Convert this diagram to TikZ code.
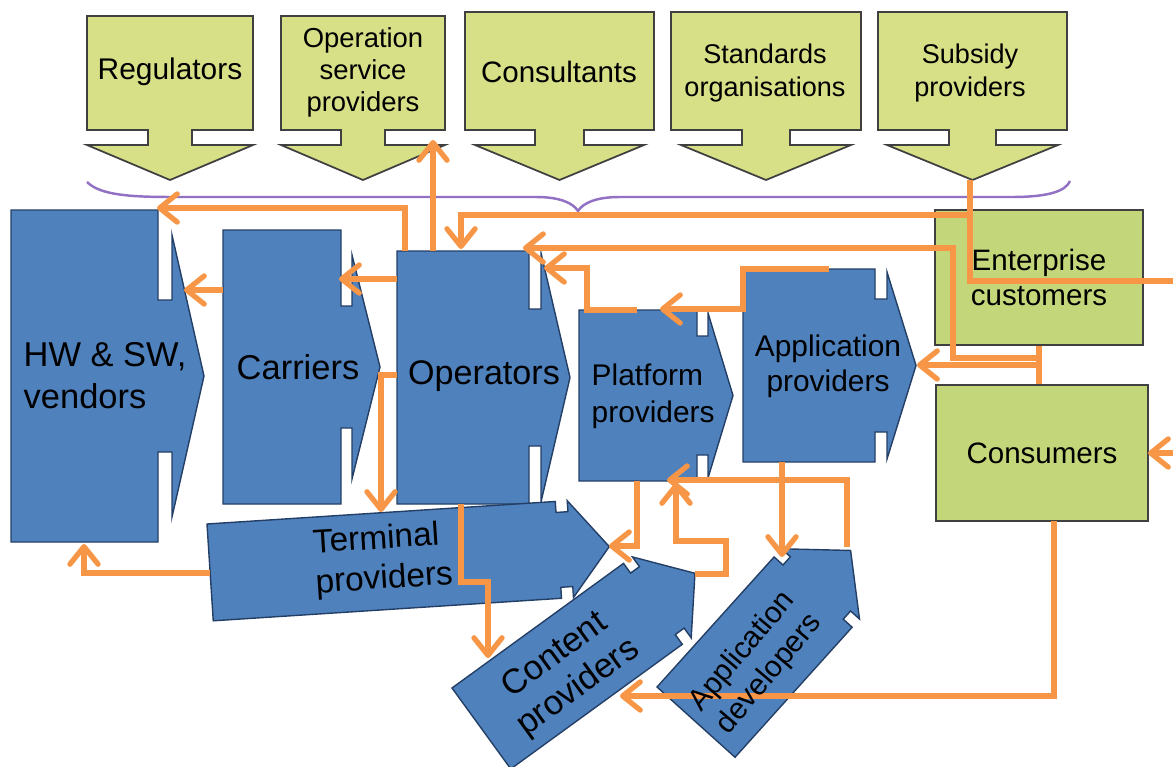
\documentclass[tikz,border=0pt]{standalone}
\usepackage{fontspec}
\setmainfont{Liberation Sans}
\usetikzlibrary{arrows.meta}
\definecolor{bleu}{HTML}{4F81BD}
\definecolor{bleufonce}{HTML}{243F66}
\definecolor{orangeflux}{HTML}{F79646}
\definecolor{jaunevert}{HTML}{D7DF87}
\definecolor{vertclair}{HTML}{C3D77A}
\definecolor{accolade}{HTML}{9270C4}

% notched arrow, local frame: #2 length, #3 height, #4 notch depth, #5 notch width, #6 head inset, #7 head length
\newcommand{\notchbox}[7]{%
\draw[#1] (0,0) -- (#2,0) -- (#2,#4) -- ({#2+#5},#4) -- ({#2+#5},#6) -- ({#2+#5+#7},{#3/2})
  -- ({#2+#5},{#3-#6}) -- ({#2+#5},{#3-#4}) -- (#2,{#3-#4}) -- (#2,#3) -- (0,#3) -- cycle ;}

\tikzset{
  bluebox/.style={draw=bleufonce, line width=0.4pt, fill=bleu},
  topbox/.style={draw=black!75, line width=0.5pt, fill=jaunevert},
  greenbox/.style={draw=black!75, line width=0.5pt, fill=vertclair, inner sep=0pt, align=center,
    font=\fontsize{8.4}{10}\selectfont},
  txt/.style 2 args={font=\fontsize{#1}{#2}\selectfont, inner sep=0pt, align=center},
  link/.style={draw=orangeflux, line width=1.5pt},
  flow/.style={link, -{Straight Barb[length=5pt,width=8pt,round]}},
}

\begin{document}
\begin{tikzpicture}[x=0.01cm, y=-0.01cm]
\useasboundingbox (0,0) rectangle (1173,767) ;
% brace
\draw[accolade, line width=0.7pt] (87,182) .. controls (100,195) and (130,197) .. (172,197) -- (536,197)
  .. controls (560,197) and (573,203) .. (578,211) .. controls (583,203) and (596,197) .. (620,197)
  -- (1012,197) .. controls (1052,197) and (1066,190) .. (1070,181) ;
% box Regulators
\begin{scope}[shift={(253,16)}, rotate=-90]
\notchbox{topbox}{114}{166}{61}{15}{0}{35}
\end{scope}
% box Operation service providers
\begin{scope}[shift={(445,16)}, rotate=-90]
\notchbox{topbox}{114}{164}{60}{15}{0}{35}
\end{scope}
% box Consultants
\begin{scope}[shift={(654,12)}, rotate=-90]
\notchbox{topbox}{118}{189}{70}{15}{10}{35}
\end{scope}
% box Standards organisations
\begin{scope}[shift={(861,12)}, rotate=-90]
\notchbox{topbox}{118}{190}{71}{15}{10}{35}
\end{scope}
% box Subsidy providers
\begin{scope}[shift={(1067,12)}, rotate=-90]
\notchbox{topbox}{118}{189}{71}{15}{9}{35}
\end{scope}
% box HW & SW vendors
\begin{scope}[shift={(11,210)}]
\notchbox{bluebox}{147}{332}{90}{14}{25}{32}
\end{scope}
% box Carriers
\begin{scope}[shift={(223,230)}]
\notchbox{bluebox}{118}{274}{76}{11}{25}{28}
\end{scope}
% box Operators
\begin{scope}[shift={(397,251)}]
\notchbox{bluebox}{132}{253}{58}{12}{2}{29}
\end{scope}
% box Platform providers
\begin{scope}[shift={(579,310)}]
\notchbox{bluebox}{118}{171}{26}{11}{3}{25}
\end{scope}
% box Application providers
\begin{scope}[shift={(743,269)}]
\notchbox{bluebox}{132}{193}{30}{12}{3}{29}
\end{scope}
% box Terminal providers
\begin{scope}[shift={(207,524)}, rotate=3.7]
\notchbox{bluebox}{349}{97}{11}{12}{0}{39}
\end{scope}
% box Content providers
\begin{scope}[shift={(452,688)}, rotate=36]
\notchbox{bluebox}{212}{100}{12}{11}{0}{41}
\end{scope}
% box Application developers
\begin{scope}[shift={(657,687)}, rotate=48]
\notchbox{bluebox}{175}{105}{12}{11}{0}{45}
\end{scope}
% customers
\node[greenbox, minimum width=2.08cm, minimum height=1.35cm] (ent) at (1039,277.5) {Enterprise\\customers} ;
\node[greenbox, minimum width=2.115cm, minimum height=1.36cm] (cus) at (1042,453) {Consumers} ;

% ports
\coordinate (op-n1) at (405,251) ;
\coordinate (op-n2) at (433,251) ;
\coordinate (op-n3) at (461,249) ;
\coordinate (op-ne) at (523,248) ;
\coordinate (op-e) at (544,268) ;
\coordinate (op-w1) at (397,279) ;
\coordinate (op-w2) at (397,375) ;
\coordinate (op-s) at (461,504) ;
\coordinate (hw-ne) at (157,208) ;
\coordinate (hw-e) at (184,290) ;
\coordinate (hw-s) at (84,544) ;
\coordinate (car-w) at (223,290) ;
\coordinate (car-e) at (339,279) ;
\coordinate (osp-s) at (433,140) ;
\coordinate (sub-s) at (970,180) ;
\coordinate (plat-n1) at (637,310) ;
\coordinate (plat-n2) at (660,309) ;
\coordinate (plat-s1) at (637,481) ;
\coordinate (plat-s2) at (676,483) ;
\coordinate (plat-s3) at (667,480) ;
\coordinate (app-n) at (829,269) ;
\coordinate (app-e) at (917,365) ;
\coordinate (app-s) at (782,462) ;
\coordinate (term-n) at (381,512) ;
\coordinate (term-w) at (210,573) ;
\coordinate (term-e) at (609,546) ;
\coordinate (cont-n) at (488,658) ;
\coordinate (cont-e) at (695,574) ;
\coordinate (cont-se) at (620,696) ;
\coordinate (dev-n) at (782,557) ;
\coordinate (dev-e) at (847,547) ;
\coordinate (cus-s) at (1054,521) ;
\coordinate (cus-e) at (1148,453) ;
\coordinate (e1) at (1039,358) ;
\coordinate (e2) at (1039,365) ;
% bends
\coordinate (b1) at (970,215) ;
\coordinate (b2) at (953,248) ;
\coordinate (b3) at (587,268) ;
\coordinate (b4) at (743,309) ;
\coordinate (b5) at (726,541) ;
\coordinate (b6) at (488,582) ;
\coordinate (out1) at (1173,281) ;
\coordinate (out2) at (1173,453) ;

% flows
\draw[flow] (op-n1) |- (hw-ne) ;
\draw[flow] (op-n2) -- (osp-s) ;
\draw[flow] (sub-s) -- (b1) -| (op-n3) ;
\draw[link] (b1) |- (out1) ;
\draw[link] (ent.south) -- (ent.south |- cus.north) ;
\draw[flow] (e1) -| (b2) -- (op-ne) ;
\draw[flow] (e2) -- (app-e) ;
\draw[flow] (plat-n1) -| (b3) -- (op-e) ;
\draw[flow] (app-n) -| (b4) -- (plat-n2) ;
\draw[flow] (car-w) -- (hw-e) ;
\draw[flow] (op-w1) -- (car-e) ;
\draw[flow] (op-w2) -| (term-n) ;
\draw[flow] (term-w) -| (hw-s) ;
\draw[flow] (op-s) |- (b6) -- (cont-n) ;
\draw[flow] (plat-s1) |- (term-e) ;
\draw[flow] (cont-e) -| (b5) -| (plat-s2) ;
\draw[flow] (dev-e) |- (plat-s3) ;
\draw[flow] (app-s) -- (dev-n) ;
\draw[flow] (cus-s) |- (cont-se) ;
\draw[flow] (out2) -- (cus-e) ;

% labels
\node[txt={8.5}{10}] (reg) at (170,72) {Regulators} ;
\node[txt={7.8}{9.1}] (osp) at (363,72) {Operation\\service\\providers} ;
\node[txt={8.4}{10}] (cons) at (559,72) {Consultants} ;
\node[txt={7.7}{9.4}] (std) at (765,73) {Standards\\organisations} ;
\node[txt={7.7}{9.4}] (sub) at (970,73) {Subsidy\\providers} ;
\node[txt={9.8}{12}, anchor=west, align=left] (hw) at (23,376) {HW \& SW,\\vendors} ;
\node[txt={9.8}{12}] (car) at (298,367) {Carriers} ;
\node[txt={9.7}{12}] (op) at (484,376) {Operators} ;
\node[txt={8.5}{10.5}, anchor=west, align=left] (plat) at (591,396) {Platform\\providers} ;
\node[txt={8.5}{10}] (app) at (828,366) {Application\\providers} ;
\node[txt={9.5}{11.4}, align=left, rotate=3.7] (term) at (383,560) {Terminal\\providers} ;
\node[txt={9.8}{11.4}, rotate=36] (cont) at (567,672) {Content\\providers} ;
\node[txt={8.5}{10}, rotate=50] (dev) at (756,663) {Application\\developers} ;
\end{tikzpicture}
\end{document}
